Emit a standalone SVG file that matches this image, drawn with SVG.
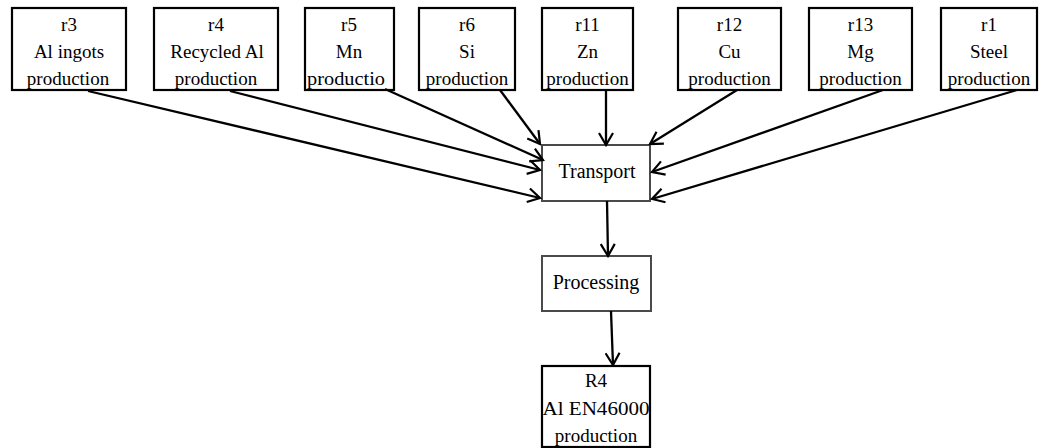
<svg xmlns="http://www.w3.org/2000/svg" width="1044" height="448" viewBox="0 0 1044 448">
<style>
.box{fill:#fff;stroke:#000;stroke-width:2.2}
.gbox{fill:#fff;stroke:#4a4a4a;stroke-width:2}
text{font-family:"Liberation Serif","Times New Roman",serif;font-size:19px;fill:#000;text-anchor:middle}
.big{font-size:20px}
.conn line{stroke:#000;stroke-width:2.3;fill:none;marker-end:url(#arr)}
</style>
<defs>
<marker id="arr" markerUnits="userSpaceOnUse" markerWidth="16" markerHeight="16" viewBox="0 0 16 16" refX="14" refY="8" orient="auto">
<path d="M2,1 L14,8 L2,15" fill="none" stroke="#000" stroke-width="2.2"/>
</marker>
</defs>
<g id="r3"><rect class="box" x="12" y="8" width="114" height="82"/><text x="69" y="31">r3</text><text x="69" y="58">Al ingots</text><text x="68" y="85">production</text></g>
<g id="r4"><rect class="box" x="154" y="8" width="124" height="82"/><text x="216" y="31">r4</text><text x="217" y="58">Recycled Al</text><text x="216" y="85">production</text></g>
<g id="r5"><rect class="box" x="305" y="8" width="89" height="82"/><text x="349" y="31">r5</text><text x="349" y="58">Mn</text><text x="346" y="85" textLength="78" lengthAdjust="spacingAndGlyphs">productio</text></g>
<g id="r6"><rect class="box" x="419" y="8" width="96" height="82"/><text x="467" y="31">r6</text><text x="467" y="58">Si</text><text x="467" y="85">production</text></g>
<g id="r11"><rect class="box" x="542" y="8" width="91" height="82"/><text x="587.5" y="31">r11</text><text x="587.5" y="58">Zn</text><text x="587.5" y="85">production</text></g>
<g id="r12"><rect class="box" x="678" y="8" width="103" height="82"/><text x="729.5" y="31">r12</text><text x="729.5" y="58">Cu</text><text x="729.5" y="85">production</text></g>
<g id="r13"><rect class="box" x="809" y="8" width="103" height="82"/><text x="860.5" y="31">r13</text><text x="860.5" y="58">Mg</text><text x="860.5" y="85">production</text></g>
<g id="r1"><rect class="box" x="941" y="8" width="96" height="82"/><text x="989" y="31">r1</text><text x="989" y="58">Steel</text><text x="989" y="85">production</text></g>
<g id="transport"><rect class="gbox" x="542" y="145" width="108" height="56"/><text class="big" x="597" y="178">Transport</text></g>
<g id="processing"><rect class="gbox" x="542" y="256" width="109" height="55" stroke-width="2.6"/><text class="big" x="596" y="289">Processing</text></g>
<g id="R4"><rect class="box" x="542" y="366" width="108" height="81"/><text x="596" y="387">R4</text><text x="596" y="415" textLength="107" lengthAdjust="spacingAndGlyphs">Al EN46000</text><text x="596" y="442">production</text></g>
<g id="connectors" class="conn">
<line x1="88" y1="91" x2="540" y2="198"/>
<line x1="230" y1="91" x2="540" y2="170"/>
<line x1="385" y1="89" x2="543" y2="160"/>
<line x1="500" y1="90" x2="540" y2="144"/>
<line x1="606" y1="90" x2="606" y2="145"/>
<line x1="737" y1="90" x2="650" y2="144"/>
<line x1="883" y1="90" x2="652" y2="172"/>
<line x1="1017" y1="90" x2="652" y2="199"/>
<line x1="607" y1="201" x2="608" y2="256"/>
<line x1="611" y1="311" x2="613" y2="365"/>
</g>
</svg>
